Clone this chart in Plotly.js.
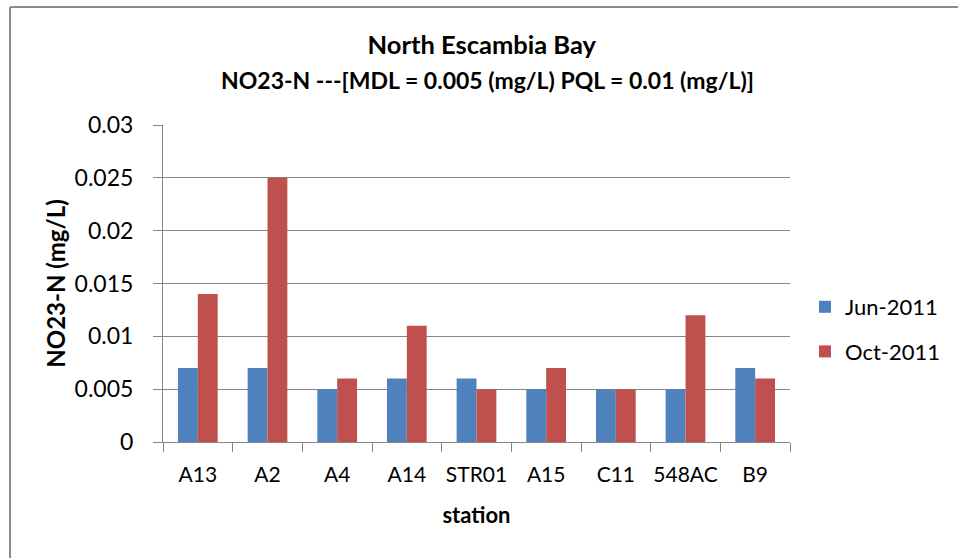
<!DOCTYPE html>
<html>
<head>
<meta charset="utf-8">
<script src="https://cdn.plot.ly/plotly-3.0.1.min.js"></script>
<style>html,body{margin:0;padding:0;background:#fff;}#chart{width:958px;height:558px;}</style>
</head>
<body>
<div id="chart"></div>
<script>
const stations = ["A13", "A2", "A4", "A14", "STR01", "A15", "C11", "548AC", "B9"];
const jun2011 = [0.007, 0.007, 0.005, 0.006, 0.006, 0.005, 0.005, 0.005, 0.007];
const oct2011 = [0.014, 0.025, 0.006, 0.011, 0.005, 0.007, 0.005, 0.012, 0.006];
const seriesNames = ["Jun-2011", "Oct-2011"];
const yTicks = [0, 0.005, 0.01, 0.015, 0.02, 0.025, 0.03];
const yTickText = ["0", "0.005", "0.01", "0.015", "0.02", "0.025", "0.03"];

const FONT = "Lato, 'Open Sans', sans-serif";
const W = 958, H = 558;
const M = {l: 163, r: 168, t: 125, b: 116};
const pw = W - M.l - M.r, ph = H - M.t - M.b;
const px = x => (x - M.l) / pw;
const py = y => (H - M.b - y) / ph;

const traces = [
  {type: "bar", name: seriesNames[0], x: stations, y: jun2011, marker: {color: "#4F81BD"}, legendgroup: "a"},
  {type: "bar", name: seriesNames[1], x: stations, y: oct2011, marker: {color: "#C0504D"}, legendgroup: "b"}
];

const layout = {
  width: W, height: H,
  margin: M,
  paper_bgcolor: "#fff", plot_bgcolor: "#fff",
  font: {family: FONT, color: "#000", size: 22},
  barmode: "group", bargap: 0.43, bargroupgap: 0,
  title: {text: "<b>North Escambia Bay</b>", font: {family: FONT, size: 25.5, color: "#000"},
          x: 487 / W, xanchor: "center", y: 1 - 45 / H, yanchor: "middle", xref: "paper"},
  annotations: [{
    text: "<b>NO23-N ---[MDL = 0.005 (mg/L) PQL = 0.01 (mg/L)]</b>",
    xref: "paper", yref: "paper", x: px(487), y: py(80), xanchor: "center", yanchor: "middle",
    showarrow: false, font: {family: FONT, size: 23, color: "#000"}
  }],
  xaxis: {
    type: "category", showline: true, linecolor: "#868686", linewidth: 1,
    ticks: "outside", tickson: "boundaries", ticklen: 9, tickcolor: "#868686",
    showgrid: false, tickfont: {size: 21}, ticklabelstandoff: 14, tickangle: 0,
    title: {text: "<b>station</b>", font: {size: 22}, standoff: 22}
  },
  yaxis: {
    range: [0, 0.03], tickvals: yTicks, ticktext: yTickText,
    showline: true, linecolor: "#868686", linewidth: 1,
    ticks: "outside", ticklen: 9, tickcolor: "#868686",
    showgrid: true, gridcolor: "#868686", gridwidth: 1, zeroline: false,
    tickfont: {size: 23}, ticklabelstandoff: 15,
    title: {text: "<b>NO23-N (mg/L)</b>", font: {size: 24}, standoff: 2}
  },
  legend: {
    x: px(805), y: py(286), xanchor: "left", yanchor: "top",
    traceorder: "grouped", tracegroupgap: 13,
    font: {size: 22}, bgcolor: "rgba(0,0,0,0)", itemwidth: 30
  },
  shapes: [
    {type: "line", xref: "paper", yref: "paper", x0: px(10), x1: px(10), y0: py(7), y1: py(H + 5), line: {color: "#8c8c8c", width: 2}},
    {type: "line", xref: "paper", yref: "paper", x0: px(10), x1: px(W + 5), y0: py(7), y1: py(7), line: {color: "#8c8c8c", width: 2}}
  ],
  showlegend: true
};

Plotly.newPlot("chart", traces, layout, {displayModeBar: false, staticPlot: true});
</script>
</body>
</html>
